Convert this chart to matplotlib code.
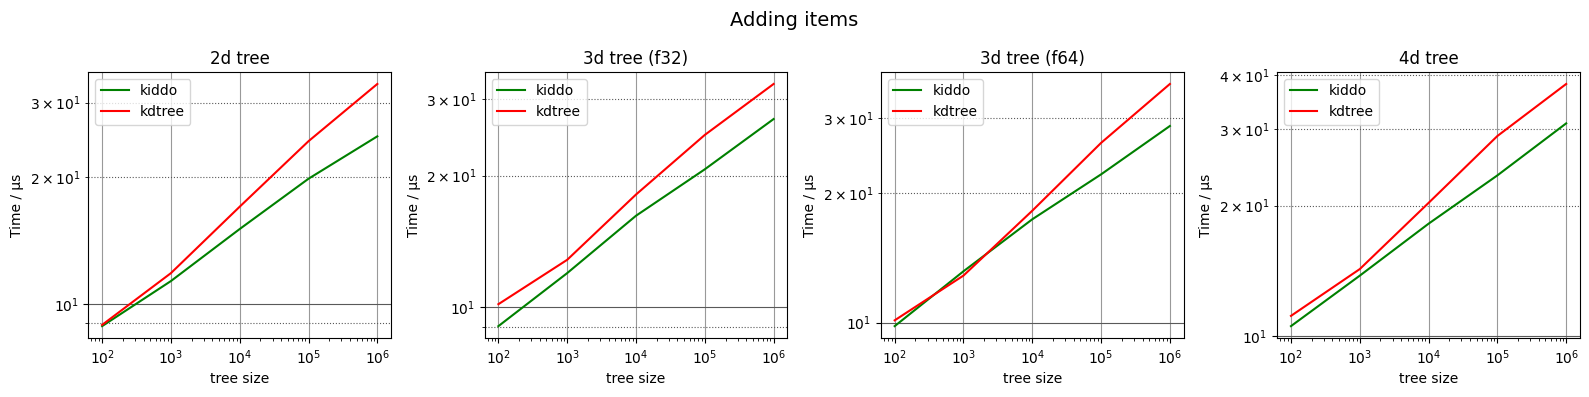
import numpy as np
import matplotlib
matplotlib.use('Agg')
import matplotlib.pyplot as plt

# tree sizes
sizes = [1e2, 1e3, 1e4, 1e5, 1e6]

titles = ['2d tree', '3d tree (f32)', '3d tree (f64)', '4d tree']

# time per item in microseconds
kiddo = [
    [8.86, 11.33, 15.05, 19.8, 24.95],
    [9.03, 11.95, 16.18, 20.68, 26.97],
    [9.81, 13.17, 17.41, 22.16, 28.73],
    [10.54, 13.78, 18.16, 23.47, 30.94],
]
kdtree = [
    [8.92, 11.83, 17.0, 24.3, 33.2],
    [10.14, 12.82, 18.1, 24.8, 32.46],
    [10.12, 12.87, 18.23, 26.24, 36.0],
    [11.13, 14.27, 20.28, 28.93, 38.14],
]

fig, axes = plt.subplots(1, 4, figsize=(15.89, 3.97), dpi=100)
fig.suptitle('Adding items', fontsize=14, y=0.972)

for i, ax in enumerate(axes):
    ax.plot(sizes, kiddo[i], color='green', label='kiddo')
    ax.plot(sizes, kdtree[i], color='red', label='kdtree')
    ax.set_xscale('log')
    ax.set_yscale('log')
    ax.set_title(titles[i])
    ax.set_xlabel('tree size')
    ax.set_ylabel('Time / µs')
    ax.xaxis.grid(True, which='major', color='0.6')
    ax.yaxis.grid(True, which='major', color='0.35')
    ax.yaxis.grid(True, which='minor', color='0.35', linestyle=':', linewidth=0.8)
    ax.legend(loc='upper left')

plt.subplots_adjust(left=0.0556, right=0.9943, top=0.819, bottom=0.148, wspace=0.309)
plt.savefig('out.png')
